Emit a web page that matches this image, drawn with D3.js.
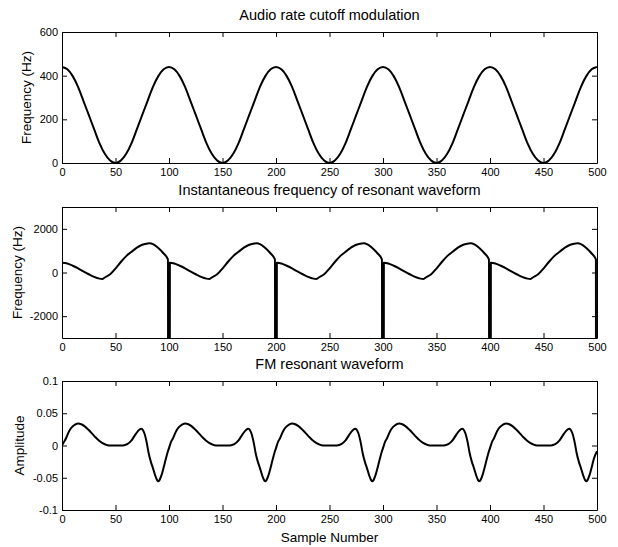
<!DOCTYPE html>
<html>
<head>
<meta charset="utf-8">
<script src="https://cdn.jsdelivr.net/npm/d3@7"></script>
<style>
  html, body { margin: 0; padding: 0; background: #fff; }
  svg { display: block; }
  text { font-family: "Liberation Sans", Arial, Helvetica, sans-serif; fill: #000; }
</style>
</head>
<body>
<svg id="chart" width="618" height="547"></svg>
<script>
// ---------------- DATA ----------------
const xTicks = [0, 50, 100, 150, 200, 250, 300, 350, 400, 450, 500];
const xTickLabels = ["0", "50", "100", "150", "200", "250", "300", "350", "400", "450", "500"];

// Panel 1: audio rate cutoff modulation (every 5 samples)
const cutoffSamples = d3.range(0, 501, 5);
const cutoffValues = [
  440, 429, 398, 349, 285, 220, 155, 91, 42, 11, 0, 11, 42, 91, 155, 220, 285, 349, 398, 429,
  440, 429, 398, 349, 285, 220, 155, 91, 42, 11, 0, 11, 42, 91, 155, 220, 285, 349, 398, 429,
  440, 429, 398, 349, 285, 220, 155, 91, 42, 11, 0, 11, 42, 91, 155, 220, 285, 349, 398, 429,
  440, 429, 398, 349, 285, 220, 155, 91, 42, 11, 0, 11, 42, 91, 155, 220, 285, 349, 398, 429,
  440, 429, 398, 349, 285, 220, 155, 91, 42, 11, 0, 11, 42, 91, 155, 220, 285, 349, 398, 429,
  440
];
const cutoffYTicks = [0, 200, 400, 600];
const cutoffYTickLabels = ["0", "200", "400", "600"];

// Panel 2: instantaneous frequency of resonant waveform (drops far below the axis at each period end)
const instSamples = [
  0, 5, 10, 15, 20, 25, 30, 35, 38, 40, 45, 50, 55, 60, 65, 70, 75, 80, 82, 85, 90, 95, 99, 100,
  100.8, 105, 110, 115, 120, 125, 130, 135, 138, 140, 145, 150, 155, 160, 165, 170, 175, 180, 182, 185, 190, 195, 199, 200,
  200.8, 205, 210, 215, 220, 225, 230, 235, 238, 240, 245, 250, 255, 260, 265, 270, 275, 280, 282, 285, 290, 295, 299, 300,
  300.8, 305, 310, 315, 320, 325, 330, 335, 338, 340, 345, 350, 355, 360, 365, 370, 375, 380, 382, 385, 390, 395, 399, 400,
  400.8, 405, 410, 415, 420, 425, 430, 435, 438, 440, 445, 450, 455, 460, 465, 470, 475, 480, 482, 485, 490, 495, 499, 500
];
const instValues = [
  450, 415, 310, 190, 50, -80, -200, -280, -293, -230, -80, 180, 480, 750, 950, 1140, 1270, 1330, 1335, 1300, 1120, 870, 600, -100000,
  448, 415, 310, 190, 50, -80, -200, -280, -293, -230, -80, 180, 480, 750, 950, 1140, 1270, 1330, 1335, 1300, 1120, 870, 600, -100000,
  448, 415, 310, 190, 50, -80, -200, -280, -293, -230, -80, 180, 480, 750, 950, 1140, 1270, 1330, 1335, 1300, 1120, 870, 600, -100000,
  448, 415, 310, 190, 50, -80, -200, -280, -293, -230, -80, 180, 480, 750, 950, 1140, 1270, 1330, 1335, 1300, 1120, 870, 600, -100000,
  448, 415, 310, 190, 50, -80, -200, -280, -293, -230, -80, 180, 480, 750, 950, 1140, 1270, 1330, 1335, 1300, 1120, 870, 600, -100000
];
const instYTicks = [-2000, 0, 2000];
const instYTickLabels = ["-2000", "0", "2000"];

// Panel 3: FM resonant waveform amplitude
const ampSamples = [
  0, 2, 4, 6, 8, 11, 15, 18, 21, 25, 30, 35, 40, 44, 50, 57, 61, 65, 69, 72, 74, 77, 79, 81, 83, 85, 87, 89, 90, 91, 93, 95, 97, 99,
  100, 102, 104, 106, 108, 111, 115, 118, 121, 125, 130, 135, 140, 144, 150, 157, 161, 165, 169, 172, 174, 177, 179, 181, 183, 185, 187, 189, 190, 191, 193, 195, 197, 199,
  200, 202, 204, 206, 208, 211, 215, 218, 221, 225, 230, 235, 240, 244, 250, 257, 261, 265, 269, 272, 274, 277, 279, 281, 283, 285, 287, 289, 290, 291, 293, 295, 297, 299,
  300, 302, 304, 306, 308, 311, 315, 318, 321, 325, 330, 335, 340, 344, 350, 357, 361, 365, 369, 372, 374, 377, 379, 381, 383, 385, 387, 389, 390, 391, 393, 395, 397, 399,
  400, 402, 404, 406, 408, 411, 415, 418, 421, 425, 430, 435, 440, 444, 450, 457, 461, 465, 469, 472, 474, 477, 479, 481, 483, 485, 487, 489, 490, 491, 493, 495, 497, 500
];
const ampValues = [
  0, 0.006, 0.012, 0.020, 0.026, 0.031, 0.034, 0.033, 0.030, 0.024, 0.015, 0.007, 0.002, 0, 0, 0, 0.002, 0.008, 0.018, 0.024, 0.026, 0.019, 0.006, -0.012, -0.025, -0.035, -0.046, -0.054, -0.0555, -0.054, -0.046, -0.034, -0.021, -0.009,
  -0.004, 0.006, 0.012, 0.020, 0.026, 0.031, 0.034, 0.033, 0.030, 0.024, 0.015, 0.007, 0.002, 0, 0, 0, 0.002, 0.008, 0.018, 0.024, 0.026, 0.019, 0.006, -0.012, -0.025, -0.035, -0.046, -0.054, -0.0555, -0.054, -0.046, -0.034, -0.021, -0.009,
  -0.004, 0.006, 0.012, 0.020, 0.026, 0.031, 0.034, 0.033, 0.030, 0.024, 0.015, 0.007, 0.002, 0, 0, 0, 0.002, 0.008, 0.018, 0.024, 0.026, 0.019, 0.006, -0.012, -0.025, -0.035, -0.046, -0.054, -0.0555, -0.054, -0.046, -0.034, -0.021, -0.009,
  -0.004, 0.006, 0.012, 0.020, 0.026, 0.031, 0.034, 0.033, 0.030, 0.024, 0.015, 0.007, 0.002, 0, 0, 0, 0.002, 0.008, 0.018, 0.024, 0.026, 0.019, 0.006, -0.012, -0.025, -0.035, -0.046, -0.054, -0.0555, -0.054, -0.046, -0.034, -0.021, -0.009,
  -0.004, 0.006, 0.012, 0.020, 0.026, 0.031, 0.034, 0.033, 0.030, 0.024, 0.015, 0.007, 0.002, 0, 0, 0, 0.002, 0.008, 0.018, 0.024, 0.026, 0.019, 0.006, -0.012, -0.025, -0.035, -0.046, -0.054, -0.0555, -0.054, -0.046, -0.034, -0.021, -0.009
];
const ampYTicks = [-0.1, -0.05, 0, 0.05, 0.1];
const ampYTickLabels = ["-0.1", "-0.05", "0", "0.05", "0.1"];

const titles = ["Audio rate cutoff modulation", "Instantaneous frequency of resonant waveform", "FM resonant waveform"];
const yLabels = ["Frequency (Hz)", "Frequency (Hz)", "Amplitude"];
const xLabel = "Sample Number";

// ---------------- LAYOUT ----------------
const svg = d3.select("#chart");
const left = 62, right = 597;
const x = d3.scaleLinear().domain([0, 500]).range([left, right]);

const panels = [
  { top: 32, bottom: 163, domain: [0, 600], ticks: cutoffYTicks, labels: cutoffYTickLabels,
    xs: cutoffSamples, ys: cutoffValues, title: titles[0], titleY: 20, yLabel: yLabels[0], yLabelX: 31 },
  { top: 207, bottom: 338, domain: [-3000, 3000], ticks: instYTicks, labels: instYTickLabels,
    xs: instSamples, ys: instValues, title: titles[1], titleY: 195, yLabel: yLabels[1], yLabelX: 22 },
  { top: 381, bottom: 510, domain: [-0.1, 0.1], ticks: ampYTicks, labels: ampYTickLabels,
    xs: ampSamples, ys: ampValues, title: titles[2], titleY: 369, yLabel: yLabels[2], yLabelX: 24 }
];

panels.forEach((p, i) => {
  const y = d3.scaleLinear().domain(p.domain).range([p.bottom, p.top]);
  const g = svg.append("g");

  const clipId = "clip" + i;
  svg.append("clipPath").attr("id", clipId)
    .append("rect").attr("x", left).attr("y", p.top).attr("width", right - left).attr("height", p.bottom - p.top);

  const fmtX = d => xTickLabels[xTicks.indexOf(d)];
  const fmtY = d => p.labels[p.ticks.indexOf(d)];

  const axB = g.append("g").attr("transform", `translate(0,${p.bottom})`)
    .call(d3.axisBottom(x).tickValues(xTicks).tickFormat(fmtX).tickSizeInner(-5).tickSizeOuter(0).tickPadding(5));
  const axT = g.append("g").attr("transform", `translate(0,${p.top})`)
    .call(d3.axisTop(x).tickValues(xTicks).tickFormat("").tickSizeInner(-5).tickSizeOuter(0));
  const axL = g.append("g").attr("transform", `translate(${left},0)`)
    .call(d3.axisLeft(y).tickValues(p.ticks).tickFormat(fmtY).tickSizeInner(-5).tickSizeOuter(0).tickPadding(4));
  const axR = g.append("g").attr("transform", `translate(${right},0)`)
    .call(d3.axisRight(y).tickValues(p.ticks).tickFormat("").tickSizeInner(-5).tickSizeOuter(0));

  [axB, axT, axL, axR].forEach(a => {
    a.selectAll("path.domain").attr("stroke", "#000").attr("stroke-width", 1);
    a.selectAll(".tick line").attr("stroke", "#000").attr("stroke-width", 1);
    a.selectAll("text").attr("font-size", 11).attr("fill", "#000")
      .attr("font-family", '"Liberation Sans", Arial, sans-serif');
  });

  const pts = p.xs.map((s, k) => [s, p.ys[k]]);
  const line = d3.line().x(d => x(d[0])).y(d => y(d[1])).curve(d3.curveMonotoneX);
  g.append("path").datum(pts)
    .attr("clip-path", `url(#${clipId})`)
    .attr("fill", "none").attr("stroke", "#000").attr("stroke-width", 2)
    .attr("stroke-linejoin", "round")
    .attr("d", line);

  svg.append("text").attr("x", (left + right) / 2).attr("y", p.titleY)
    .attr("text-anchor", "middle").attr("font-size", 14.5).text(p.title);

  svg.append("text")
    .attr("transform", `translate(${p.yLabelX},${(p.top + p.bottom) / 2}) rotate(-90)`)
    .attr("text-anchor", "middle").attr("font-size", 13.5).text(p.yLabel);
});

svg.append("text").attr("x", (left + right) / 2).attr("y", 542)
  .attr("text-anchor", "middle").attr("font-size", 13.5).text(xLabel);
</script>
</body>
</html>
